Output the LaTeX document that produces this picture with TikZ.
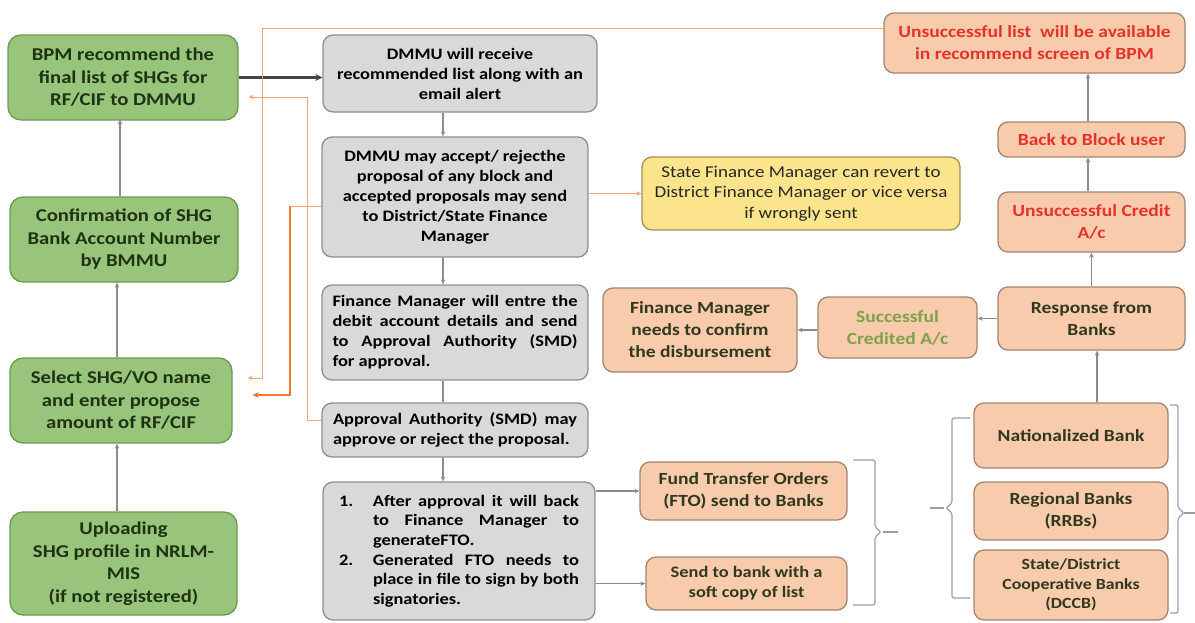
\documentclass[tikz,border=0pt]{standalone}
\usepackage{fontspec}
\setmainfont{Carlito}[FakeStretch=1.15]
\usetikzlibrary{arrows.meta,calc}
\definecolor{gfill}{HTML}{98C57B}
\definecolor{gdraw}{HTML}{6C9A50}
\definecolor{gtext}{HTML}{1E3314}
\definecolor{mfill}{HTML}{D9D9D9}
\definecolor{mdraw}{HTML}{8F8F8F}
\definecolor{sfill}{HTML}{F8CBAD}
\definecolor{sdraw}{HTML}{A08670}
\definecolor{stext}{HTML}{30391C}
\definecolor{yfill}{HTML}{FCE48C}
\definecolor{ydraw}{HTML}{A39156}
\definecolor{redtxt}{HTML}{E5322D}
\definecolor{succtxt}{HTML}{7EA24A}
\definecolor{cgray}{HTML}{8C8C8C}
\definecolor{cdark}{HTML}{454545}
\definecolor{othick}{HTML}{EE7A30}
\definecolor{othin}{HTML}{F2A47A}
\definecolor{bracec}{HTML}{9C9CAA}
\begin{document}
\begin{tikzpicture}[x=1pt,y=-1pt,
  box/.style={draw, rounded corners=10pt, line width=1.3pt, inner sep=0pt, align=center},
  gbox/.style={box, fill=gfill, draw=gdraw, text=gtext, rounded corners=13pt,
    font=\bfseries\fontsize{18}{22.5}\selectfont},
  mbox/.style={box, fill=mfill, draw=mdraw, text=black,
    font=\bfseries\fontsize{16}{20}\selectfont},
  sbox/.style={box, fill=sfill, draw=sdraw, text=stext,
    font=\bfseries\fontsize{17}{22}\selectfont},
  ybox/.style={box, fill=yfill, draw=ydraw, text=black!85,
    font=\fontsize{16.5}{20.5}\selectfont},
  conn/.style={draw=cgray, line width=1.1pt, -{Stealth[length=5pt,width=4.5pt]}},
  plain/.style={draw=cgray, line width=1.1pt},
  darr/.style={draw=cdark, line width=2.2pt, -{Stealth[length=7pt,width=7pt]}},
  othk/.style={draw=othick, line width=2pt, -{Stealth[length=6pt,width=6pt]}},
  othn/.style={draw=othin, line width=0.9pt, -{Stealth[length=5pt,width=4.5pt]}},
  bracestyle/.style={draw=bracec, line width=1.2pt, rounded corners=2pt}
]
\useasboundingbox (0,0) rectangle (1195,622);

% left column
\node[gbox, minimum width=230pt, minimum height=85pt] (bpm) at (123,77.5)
  {BPM recommend the\\final list of SHGs for\\RF/CIF to DMMU};
\node[gbox, minimum width=228pt, minimum height=85pt] (conf) at (124,239.5)
  {Confirmation of SHG\\Bank Account Number\\by BMMU};
\node[gbox, minimum width=222pt, minimum height=85pt] (sel) at (121,400.5)
  {Select SHG/VO name\\and enter propose\\amount of RF/CIF};
\node[gbox, minimum width=227pt, minimum height=103pt] (upl) at (123.5,563.5)
  {Uploading\\SHG profile in NRLM-\\MIS\\(if not registered)};

% middle column
\node[mbox, minimum width=274pt, minimum height=77pt] (recv) at (460,73.5)
  {DMMU will receive\\recommended list along with an\\email alert};
\node[mbox, minimum width=266pt, minimum height=120pt] (acc) at (455,197)
  {DMMU may accept/ rejecthe\\proposal of any block and\\accepted proposals may send\\to District/State Finance\\Manager};
\node[mbox, minimum width=266pt, minimum height=95pt, align=left] (fm) at (455,332.5)
  {\makebox[245pt][s]{Finance Manager will entre the}\\
   \makebox[245pt][s]{debit account details and send}\\
   \makebox[245pt][s]{to Approval Authority (SMD)}\\
   for approval.};
\node[mbox, minimum width=266pt, minimum height=54pt, align=left] (appr) at (455,430)
  {\makebox[244pt][s]{Approval Authority (SMD) may}\\
   approve or reject the proposal.};
\node[mbox, minimum width=272pt, minimum height=138pt, align=left,
      font=\bfseries\fontsize{16}{19.6}\selectfont] (aft) at (459,551)
  {\makebox[34pt][l]{1.}\makebox[206pt][s]{After approval it will back}\\
   \hspace*{34pt}\makebox[206pt][s]{to Finance Manager to}\\
   \hspace*{34pt}generateFTO.\\
   \makebox[34pt][l]{2.}\makebox[206pt][s]{Generated FTO needs to}\\
   \hspace*{34pt}\makebox[206pt][s]{place in file to sign by both}\\
   \hspace*{34pt}signatories.};

% yellow
\node[ybox, minimum width=318pt, minimum height=73pt] (yel) at (801,193.5)
  {State Finance Manager can revert to\\District Finance Manager or vice versa\\if wrongly sent};

% right side
\node[sbox, text=redtxt, minimum width=301pt, minimum height=60pt] (ul) at (1034.5,43)
  {Unsuccessful list~~will be available\\in recommend screen of BPM};
\node[sbox, text=redtxt, minimum width=187pt, minimum height=35pt] (btb) at (1091.5,139.5)
  {Back to Block user};
\node[sbox, text=redtxt, minimum width=187pt, minimum height=60pt] (uc) at (1091.5,222)
  {Unsuccessful Credit\\A/c};
\node[sbox, minimum width=187pt, minimum height=63pt] (resp) at (1091.5,318.5)
  {Response from\\Banks};
\node[sbox, text=succtxt, minimum width=159pt, minimum height=61pt] (succ) at (897.5,327.5)
  {Successful\\Credited A/c};
\node[sbox, minimum width=194pt, minimum height=84pt] (fmc) at (700,330)
  {Finance Manager\\needs to confirm\\the disbursement};
\node[sbox, minimum width=207pt, minimum height=58pt] (fto) at (743.5,491)
  {Fund Transfer Orders\\(FTO) send to Banks};
\node[sbox, minimum width=201pt, minimum height=53pt,
      font=\bfseries\fontsize{16}{20}\selectfont] (send) at (746.5,583.5)
  {Send to bank with a\\soft copy of list};
\node[sbox, minimum width=194pt, minimum height=65pt] (nat) at (1071,435.5)
  {Nationalized Bank};
\node[sbox, minimum width=194pt, minimum height=58pt] (reg) at (1071,511)
  {Regional Banks\\(RRBs)};
\node[sbox, minimum width=194pt, minimum height=70pt,
      font=\bfseries\fontsize{15.5}{19.5}\selectfont] (sdc) at (1071,585)
  {State/District\\Cooperative Banks\\(DCCB)};

% helper coordinates
\coordinate (mx) at (443,0);
\coordinate (lx) at (117,0);
\coordinate (ox1) at (262,0);
\coordinate (ox2) at (290,0);
\coordinate (ox3) at (307,0);
\coordinate (oy0) at (0,28);
\coordinate (oy1) at (0,206);
\coordinate (oy2) at (0,378);
\coordinate (oy3) at (0,395);
\coordinate (oy4) at (0,97);
\coordinate (oy5) at (0,420);
\coordinate (rx1) at (1097,0);
\coordinate (rx2) at (1088,0);

% left column connectors
\draw[conn] (upl.north -| lx) -- (sel.south -| lx);
\draw[conn] (sel.north -| lx) -- (conf.south -| lx);
\draw[conn] ($(conf.north)+(-4,0)$) -- ($(bpm.north)+(-3,85)$);

% main flow
\draw[darr] (bpm.east) -- (recv.west |- bpm.east);
\draw[conn] (recv.south -| mx) -- (acc.north -| mx);
\draw[conn] (acc.south -| mx) -- (fm.north -| mx);
\draw[plain] (fm.south -| mx) -- (appr.north -| mx);
\draw[conn] (appr.south -| mx) -- (aft.north -| mx);
\draw[conn] (aft.east |- fto.west) -- (fto.west);
\draw[conn] (aft.east |- send.west) -- (send.west);

% orange feedback lines
\draw[othn] (ul.west |- oy0) -- (ox1 |- oy0) -- (ox1 |- oy2) -- ([xshift=15pt]sel.east |- oy2);
\draw[draw=othin, line width=0.9pt] (acc.west |- oy1) -- (ox2 |- oy1);
\draw[othk] (ox2 |- oy1) -- (ox2 |- oy3) -- ([xshift=20pt]sel.east |- oy3);
\draw[othn] (appr.west |- oy5) -- (ox3 |- oy5) -- (ox3 |- oy4) -- ([xshift=10pt]bpm.east |- oy4);
\draw[othn] (acc.east |- yel.west) -- (yel.west);

% right side connectors
\draw[conn] (nat.north -| rx1) -- (resp.south -| rx1);
\draw[conn] (resp.north) -- (uc.south);
\draw[conn] (uc.north -| rx2) -- (btb.south -| rx2);
\draw[conn] (btb.north -| rx2) -- (ul.south -| rx2);
\draw[conn] (resp.west) -- (succ.east |- resp.west);
\draw[conn] (succ.west |- fmc.east) -- (fmc.east);

% braces
\draw[bracestyle] (853,460) -- (875,460) -- (875,527) -- (881,532) -- (875,537) -- (875,605) -- (853,605);
\draw[draw=bracec, line width=1.4pt] (883,532) -- (898,532);
\draw[bracestyle] (970,418) -- (952,418) -- (952,503) -- (946,508) -- (952,513) -- (952,598) -- (970,598);
\draw[draw=bracec, line width=1.4pt] (930,508) -- (944,508);
\draw[bracestyle] (1170,405) -- (1178,405) -- (1178,508) -- (1184,513) -- (1178,518) -- (1178,613) -- (1170,613);
\draw[draw=bracec, line width=1.4pt] (1184,513) -- (1195,513);
\end{tikzpicture}
\end{document}
